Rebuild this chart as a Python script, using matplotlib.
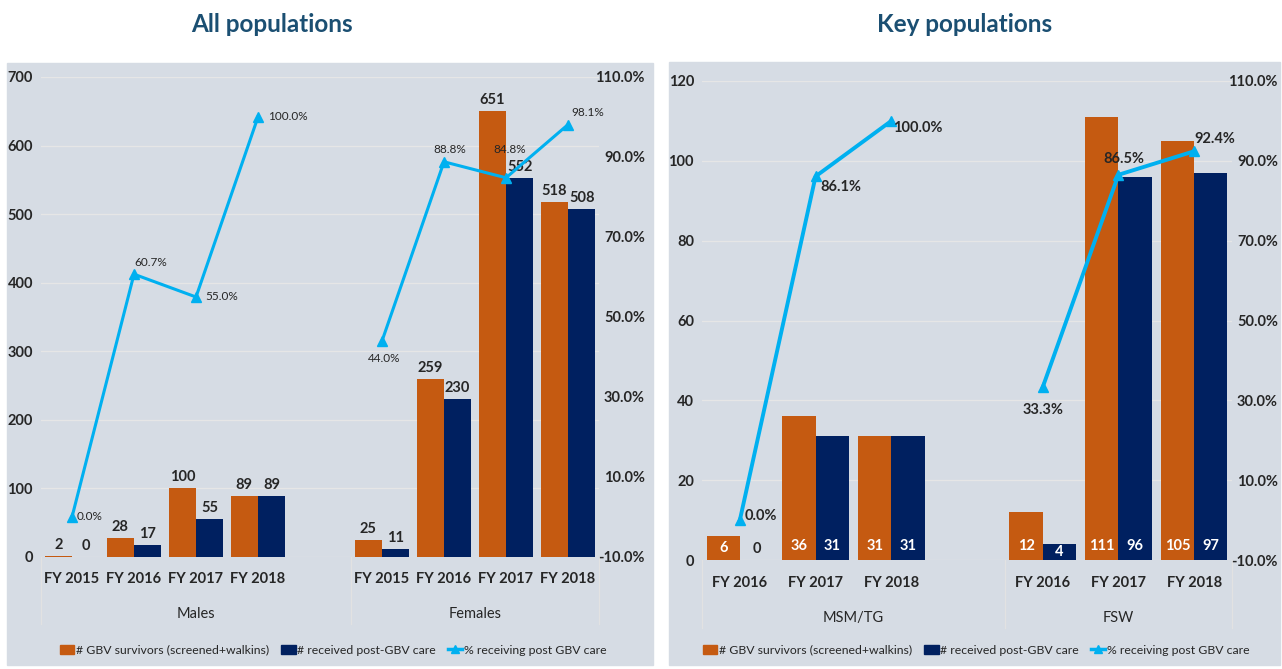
import matplotlib.pyplot as plt
import numpy as np
from matplotlib.patches import Rectangle, Patch
from matplotlib.lines import Line2D
import matplotlib.transforms as mtransforms

plt.rcParams['font.family'] = ['Lato', 'DejaVu Sans']

## Dados - todas as populações
anos_todos = ['FY 2015', 'FY 2016', 'FY 2017', 'FY 2018']
grupos_todos = ['Males', 'Females']
sobrev_todos = [[2, 28, 100, 89], [25, 259, 651, 518]]
cuidado_todos = [[0, 17, 55, 89], [11, 230, 552, 508]]
pct_todos = [[0.0, 60.7, 55.0, 100.0], [44.0, 88.8, 84.8, 98.1]]

## Dados - populações chave
anos_chave = ['FY 2016', 'FY 2017', 'FY 2018']
grupos_chave = ['MSM/TG', 'FSW']
sobrev_chave = [[6, 36, 31], [12, 111, 105]]
cuidado_chave = [[0, 31, 31], [4, 96, 97]]
pct_chave = [[0.0, 86.1, 100.0], [33.3, 86.5, 92.4]]

nomes_legenda = ['# GBV survivors (screened+walkins)', '# received post-GBV care',
                 '% receiving post GBV care']

LARANJA = '#C55A11'
AZUL = '#002060'
CIANO = '#00B0F0'
FUNDO = '#D6DCE4'
TEXTO = '#262626'
W, H = 1282, 669
PX = 0.72  # pontos por pixel (dpi 100)


def eixo(x0, x1, ytop, ybot):
    return fig.add_axes([x0 / W, (H - ybot) / H, (x1 - x0) / W, (ybot - ytop) / H])


def painel(ax, anos, grupos, sobrev, cuidado, pct, ymax, ystep, offs, dentro, lw, yfy, ygr, fs_pct, peso_pct):
    n = len(anos)
    larg = 0.44
    ax.set_xlim(-0.5, 2 * n + 0.5)
    ax.set_ylim(0, ymax)
    ax.set_facecolor('none')
    for s in ax.spines.values():
        s.set_visible(False)
    ax.set_xticks([])
    ticks = np.arange(0, ymax + 1, ystep)
    ax.set_yticks(ticks, [str(t) for t in ticks], fontsize=10.5, fontweight='bold', color=TEXTO)
    ax.tick_params(axis='y', length=0, pad=8 * PX)
    ax.yaxis.grid(True, color='#E6E6E6', lw=0.9)
    ax.set_axisbelow(True)

    ax2 = ax.twinx()
    ax2.set_ylim(-10, 110)
    for s in ax2.spines.values():
        s.set_visible(False)
    pt = np.arange(-10, 111, 20)
    ax2.set_yticks(pt, [f'{t:.1f}%' for t in pt], fontsize=10.5, fontweight='bold', color=TEXTO, ha='right')
    ax2.tick_params(axis='y', length=0, pad=46 * PX)

    trans = mtransforms.blended_transform_factory(ax.transData, ax.transAxes)
    k = 0
    for g in range(2):
        xs = g * (n + 1) + np.arange(n)
        ax.bar(xs - larg / 2, sobrev[g], larg, color=LARANJA, zorder=2)
        ax.bar(xs + larg / 2, cuidado[g], larg, color=AZUL, zorder=2)
        ax2.plot(xs, pct[g], color=CIANO, lw=lw, marker='^', ms=7, zorder=3)

        ## rótulos das barras
        for x, a, b in zip(xs, sobrev[g], cuidado[g]):
            for xx, v in ((x - larg / 2, a), (x + larg / 2, b)):
                if not dentro or v == 0:
                    ax.annotate(str(v), (xx, v), xytext=(0, 4 * PX), textcoords='offset points',
                                ha='center', va='bottom', fontsize=10.5, fontweight='bold', color=TEXTO)
                else:
                    alt = ax.transData.transform((0, v))[1] - ax.transData.transform((0, 0))[1]
                    ax.annotate(str(v), (xx, 0), xytext=(0, min(14, alt / 2) * PX),
                                textcoords='offset points', ha='center', va='center',
                                fontsize=10.5, fontweight='bold', color='white')

        ## rótulos da linha
        for x, p in zip(xs, pct[g]):
            dx, dy, ha = offs[k]
            k += 1
            ax2.annotate(f'{p:.1f}%', (x, p), xytext=(dx * PX, dy * PX), textcoords='offset points',
                         ha=ha, va='center', fontsize=fs_pct, fontweight=peso_pct, color=TEXTO, zorder=4)

        ## eixo de categorias
        for x, a in zip(xs, anos):
            ax.text(x, yfy, a, transform=trans, ha='center', va='center', fontsize=10.5,
                    fontweight='bold', color=TEXTO)
        centro = n / 2 if g == 0 else (3 * n + 1) / 2
        ax.text(centro, ygr, grupos[g], transform=trans, ha='center', va='center',
                fontsize=10.5, color=TEXTO)

    for xs in (-0.5, n + 0.5, 2 * n + 0.5):
        ax.add_line(Line2D([xs, xs], [0, ygr - 0.02], transform=trans, color='#E2E2E2',
                           lw=0.9, clip_on=False))
    return ax2


fig = plt.figure(figsize=(W / 100, H / 100), dpi=100)

## Fundos dos painéis
fig.add_artist(Rectangle((7 / W, 4 / H), 646 / W, 602 / H, transform=fig.transFigure,
                         color=FUNDO, zorder=0))
fig.add_artist(Rectangle((669 / W, 4 / H), 611 / W, 603 / H, transform=fig.transFigure,
                         color=FUNDO, zorder=0))

fig.text(272 / W, 1 - 25 / H, 'All populations', ha='center', va='center', fontsize=17.5,
         fontweight='bold', color='#1B4F72')
fig.text(965 / W, 1 - 25 / H, 'Key populations', ha='center', va='center', fontsize=17.5,
         fontweight='bold', color='#1B4F72')

ax_a = eixo(41, 599, 77, 557)
offs_a = [(5, 0, 'left'), (0, 12, 'left'), (9, 0, 'left'), (10, 0, 'left'),
          (2, -18, 'center'), (6, 12, 'center'), (4, 28, 'center'), (3, 12, 'left')]
painel(ax_a, anos_todos, grupos_todos, sobrev_todos, cuidado_todos, pct_todos, 700, 100,
       offs_a, False, 2.2, -0.046, -0.119, 8.5, 'normal')

ax_c = eixo(702, 1232, 81, 560)
offs_c = [(5, 4, 'left'), (5, -11, 'left'), (2, -7, 'left'),
          (0, -23, 'center'), (5, 16, 'center'), (0, 12, 'left')]
painel(ax_c, anos_chave, grupos_chave, sobrev_chave, cuidado_chave, pct_chave, 120, 20,
       offs_c, True, 2.8, -0.048, -0.121, 10.5, 'bold')

## Legendas
handles = [Patch(color=LARANJA), Patch(color=AZUL),
           Line2D([], [], color=CIANO, lw=2.5, marker='^', ms=6)]
for cx in (333, 976):
    fig.legend(handles, nomes_legenda, loc='center', bbox_to_anchor=(cx / W, 1 - 650 / H),
               ncol=3, frameon=False, fontsize=8.8, handlelength=1.2, handletextpad=0.1,
               columnspacing=1.0, labelcolor=TEXTO)

fig.savefig('out.png', dpi=100)
